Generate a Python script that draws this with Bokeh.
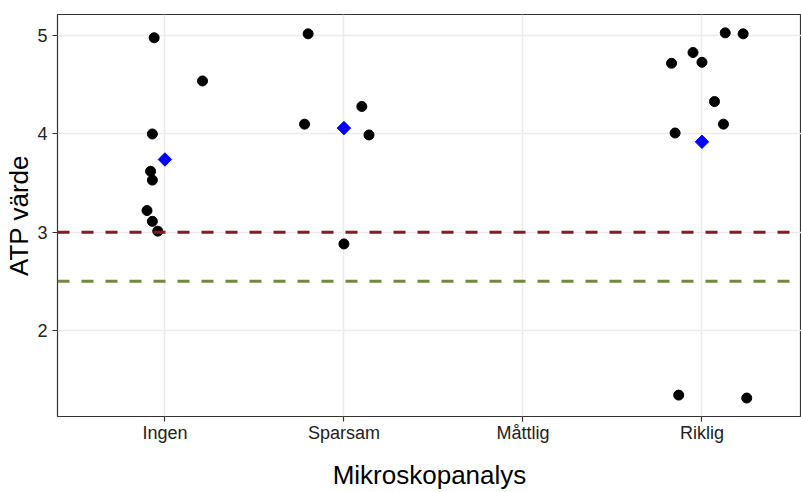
from bokeh.plotting import figure
from bokeh.models import Span, FixedTicker, Range1d
from bokeh.embed import file_html
from bokeh.resources import INLINE

# ---- data ----
categories = ["Ingen", "Sparsam", "Måttlig", "Riklig"]

ingen_atp = [4.98, 4.54, 4.00, 3.62, 3.53, 3.22, 3.11, 3.01]
ingen_jitter = [-0.06, 0.21, -0.07, -0.08, -0.07, -0.10, -0.07, -0.04]

sparsam_atp = [5.02, 4.10, 4.28, 3.99, 2.88]
sparsam_jitter = [-0.20, -0.22, 0.10, 0.14, 0.00]

riklig_atp = [5.03, 5.02, 4.83, 4.72, 4.73, 4.33, 4.10, 4.01, 1.34, 1.31]
riklig_jitter = [0.13, 0.23, -0.05, -0.17, 0.00, 0.07, 0.12, -0.15, -0.13, 0.25]

mean_categories = ["Ingen", "Sparsam", "Riklig"]
mean_atp = [3.74, 4.06, 3.92]

threshold_red = 3.0
threshold_green = 2.5

y_ticks = [2, 3, 4, 5]

# ---- build positions through the numeric category scale ----
cat_pos = {c: i + 1 for i, c in enumerate(categories)}
xs, ys = [], []
for cat, vals, jit in [("Ingen", ingen_atp, ingen_jitter),
                       ("Sparsam", sparsam_atp, sparsam_jitter),
                       ("Riklig", riklig_atp, riklig_jitter)]:
    for v, j in zip(vals, jit):
        xs.append(cat_pos[cat] + j)
        ys.append(v)
mx = [cat_pos[c] for c in mean_categories]

FONT = "Liberation Sans"

p = figure(width=801, height=492, output_backend="svg", toolbar_location=None,
           x_range=Range1d(0.4, 4.556), y_range=Range1d(1.122, 5.217),
           min_border_top=14, min_border_right=0, min_border_left=57)

p.background_fill_color = "white"
p.border_fill_color = "white"
p.outline_line_color = "#333333"
p.outline_line_width = 1.2

# grids
p.xgrid.ticker = FixedTicker(ticks=list(cat_pos.values()))
p.ygrid.ticker = FixedTicker(ticks=y_ticks)
for g in (p.xgrid, p.ygrid):
    g.grid_line_color = "#EBEBEB"
    g.grid_line_width = 1.5

# axes
p.xaxis.ticker = FixedTicker(ticks=list(cat_pos.values()))
p.xaxis.major_label_overrides = {v: k for k, v in cat_pos.items()}
p.yaxis.ticker = FixedTicker(ticks=y_ticks)
p.xaxis.axis_label = "Mikroskopanalys"
p.yaxis.axis_label = "ATP värde"
for ax in (p.xaxis, p.yaxis):
    ax.axis_line_color = None
    ax.major_tick_line_color = "#333333"
    ax.major_tick_line_width = 1.2
    ax.major_tick_out = 5
    ax.major_tick_in = 0
    ax.minor_tick_line_color = None
    ax.major_label_text_font = FONT
    ax.major_label_text_font_size = "18px"
    ax.major_label_text_color = "#222222"
    ax.axis_label_text_font = FONT
    ax.axis_label_text_font_size = "26px"
    ax.axis_label_text_font_style = "normal"
    ax.axis_label_text_color = "black"
p.xaxis.major_label_standoff = 1
p.xaxis.axis_label_standoff = 14
p.yaxis.major_label_standoff = 5
p.yaxis.axis_label_standoff = 0

# threshold lines
p.add_layout(Span(location=threshold_red, dimension="width", line_color="#8B1A1A",
                  line_width=3, line_dash="12 12"))
p.add_layout(Span(location=threshold_green, dimension="width", line_color="#6E8B3D",
                  line_width=3, line_dash="12 12"))

# points
p.scatter(xs, ys, size=10, color="black", marker="circle")
p.scatter(mx, mean_atp, size=9.5, color="#0000FF", marker="square", angle=0.785398)

open("out.html", "w").write(file_html(p, INLINE))
